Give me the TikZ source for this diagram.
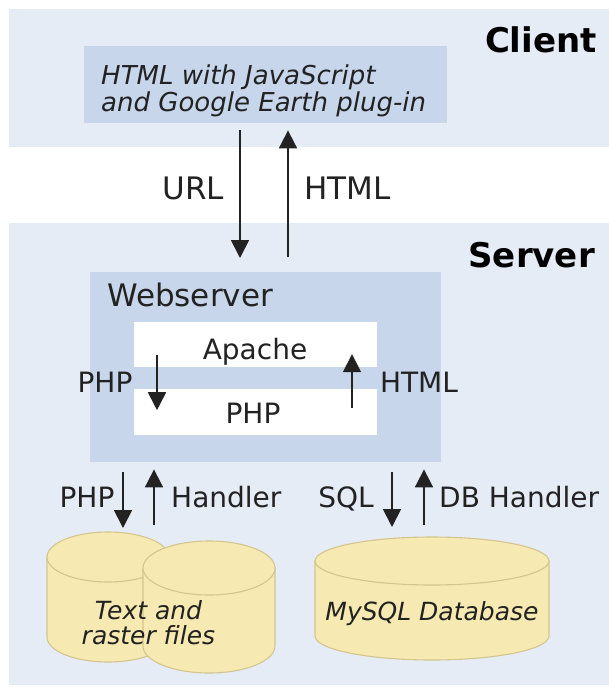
\documentclass[tikz,border=0pt]{standalone}
\usepackage{fontspec}
\setmainfont{DejaVu Sans}
\usetikzlibrary{arrows.meta}
\definecolor{band}{HTML}{E6ECF6}
\definecolor{boxblue}{HTML}{C7D6EB}
\definecolor{cylfill}{HTML}{F6EAB2}
\definecolor{cylline}{HTML}{D3C58C}
\definecolor{ink}{HTML}{222222}
\tikzset{
  arr/.style={draw=ink, line width=1.8pt, -{Triangle[length=18pt,width=18pt]}},
  lbl/.style={text=ink, font=\fontsize{28}{30}\selectfont, inner sep=0pt},
  biglbl/.style={text=ink, font=\fontsize{31}{33}\selectfont, inner sep=0pt},
  headlbl/.style={text=black, font=\bfseries\fontsize{34}{36}\selectfont, inner sep=0pt},
  bluebox/.style={fill=boxblue, draw=none, inner sep=0pt, anchor=north west},
  whitebox/.style={fill=white, draw=none, inner sep=0pt, anchor=north west},
  cyl/.style={fill=cylfill, draw=cylline, line width=1.1pt},
  cyltext/.style={text=ink, font=\itshape\fontsize{25}{25}\selectfont, align=center, inner sep=0pt},
}
\newcommand{\dbcylinder}[5]{% cx, top cy, rx, ry, bottom cy
  \filldraw[cyl] ({#1-#3},#2) -- ({#1-#3},#5)
     arc[start angle=180, end angle=360, x radius=#3pt, y radius=#4pt]
     -- ({#1+#3},#2) -- cycle;
  \filldraw[cyl] (#1,#2) ellipse [x radius=#3pt, y radius=#4pt];
}
\begin{document}
\begin{tikzpicture}[x=1pt,y=-1pt]
\useasboundingbox (0,0) rectangle (609,688);
% bands
\fill[band] (9,9) rectangle (609,147);
\fill[band] (9,223) rectangle (609,685);
% headings
\node[headlbl, anchor=base east] (client) at (597,52) {Client};
\node[headlbl, anchor=base east] (server) at (595,267) {Server};
% client box
\node[bluebox, minimum width=363pt, minimum height=77pt] (cbox) at (84,46) {};
\node[text=ink, font=\itshape\fontsize{26}{25}\selectfont, align=left, inner sep=0pt, anchor=north west] (ctext) at (101,65) {HTML with JavaScript\\and Google Earth plug-in};
% webserver
\node[bluebox, minimum width=351pt, minimum height=190pt] (web) at (90,272) {};
\node[biglbl, anchor=base west] (webl) at (107,306) {Webserver};
\node[whitebox, minimum width=243pt, minimum height=45pt] (apache) at (134,322) {};
\node[whitebox, minimum width=243pt, minimum height=46pt] (php) at (134,389) {};
\node[lbl, anchor=base] (apachel) at (255,359) {Apache};
\node[lbl, anchor=base] (phpl) at (253,423.5) {PHP};
\node[lbl, anchor=base] (phpleft) at (105,392) {PHP};
\node[lbl, anchor=base] (htmlright) at (419,392) {HTML};
% top labels
\node[biglbl, anchor=base] (urll) at (193.5,199) {URL};
\node[biglbl, anchor=base] (htmll) at (347.5,199) {HTML};
% column coordinates
\coordinate (cURL) at (240,0);
\coordinate (cHTML) at (288,0);
\coordinate (cPHPin) at (157,0);
\coordinate (cHTMLin) at (352,0);
\coordinate (cPHP) at (123,0);
\coordinate (cHand) at (154,0);
\coordinate (cSQL) at (392,0);
\coordinate (cDB) at (424,0);
% cylinders
\dbcylinder{108}{557}{61}{25}{637}
\dbcylinder{209}{568}{66}{27}{646}
\dbcylinder{432}{561}{117}{24}{636}
\coordinate (files) at (108,532);
\coordinate (mysql) at (432,537);
\node[cyltext, anchor=center] (filesl) at (148.5,623) {Text and\\raster files};
\node[cyltext, anchor=base] (mysqll) at (432,620) {MySQL Database};
% bottom labels
\node[lbl, anchor=base] (phpb) at (87,507) {PHP};
\node[lbl, anchor=base west] (handl) at (171,507) {Handler};
\node[lbl, anchor=base] (sqll) at (346,507) {SQL};
\node[lbl, anchor=base west] (dbhl) at (439,507) {DB Handler};
% arrows
\draw[arr, shorten <=7pt, shorten >=14pt] (cbox.south -| cURL) -- (web.north -| cURL);
\draw[arr, shorten <=15pt, shorten >=7pt] (web.north -| cHTML) -- (cbox.south -| cHTML);
\draw[arr, shorten <=10.5pt, shorten >=2pt] (apache.center -| cPHPin) -- (php.center -| cPHPin);
\draw[arr, shorten <=4pt, shorten >=9.5pt] (php.center -| cHTMLin) -- (apache.center -| cHTMLin);
\draw[arr, shorten <=10pt, shorten >=4pt] (web.south -| cPHP) -- (files -| cPHP);
\draw[arr, shorten <=7pt, shorten >=7pt] (files -| cHand) -- (web.south -| cHand);
\draw[arr, shorten <=10pt, shorten >=10pt] (web.south -| cSQL) -- (mysql -| cSQL);
\draw[arr, shorten <=12pt, shorten >=7pt] (mysql -| cDB) -- (web.south -| cDB);
\end{tikzpicture}
\end{document}
